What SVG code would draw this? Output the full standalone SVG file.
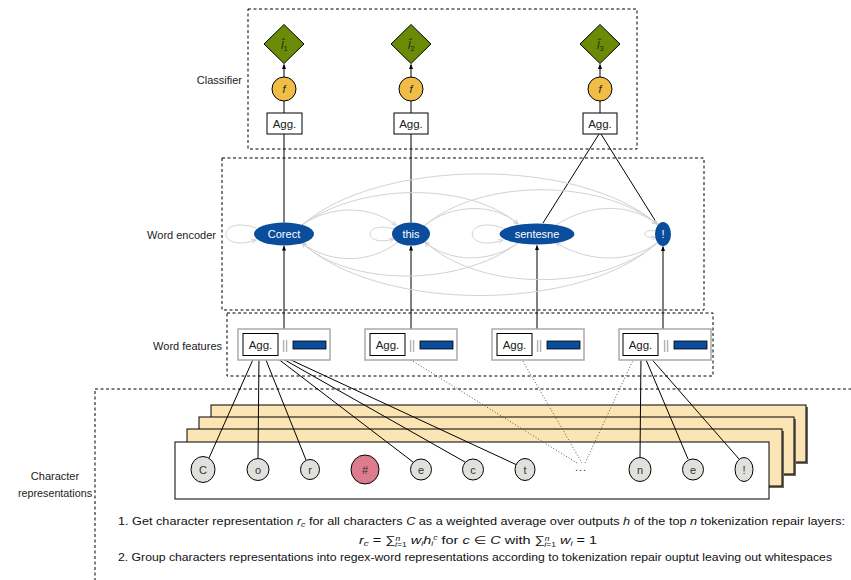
<svg xmlns="http://www.w3.org/2000/svg" width="851" height="580" viewBox="0 0 851 580">
  <defs>
    <marker id="arr" viewBox="0 0 6 6" refX="5.5" refY="3" markerWidth="5" markerHeight="5" orient="auto-start-reverse">
      <path d="M0,0.5 L6,3 L0,5.5 Z" fill="#000"/>
    </marker>
    <marker id="garr" viewBox="0 0 6 6" refX="5.5" refY="3" markerWidth="5" markerHeight="5" orient="auto">
      <path d="M0,0.5 L6,3 L0,5.5" fill="none" stroke="#cfcfcf" stroke-width="1"/>
    </marker>
    <style>
      text { font-family: "Liberation Sans", "DejaVu Sans", sans-serif; }
      .lbl { font-size: 11px; fill: #222; }
      .frame { fill: none; stroke: #000; stroke-width: 1; stroke-dasharray: 3 2.5; }
      .agg { fill: #fff; stroke: #000; stroke-width: 1; }
      .aggt { font-size: 11.5px; fill: #222; text-anchor: middle; }
      .dia { fill: #6b8a05; stroke: #000; stroke-width: 1; }
      .fn { fill: #f0bd46; stroke: #000; stroke-width: 1; }
      .word { fill: #0a4d9c; }
      .wordt { font-size: 11px; fill: #fff; text-anchor: middle; }
      .feat { fill: #fff; stroke: #aaa; stroke-width: 1.5; }
      .vec { fill: #0a4d9c; stroke: #000; stroke-width: 0.8; }
      .chr { fill: #e0e0dc; stroke: #000; stroke-width: 1; }
      .chrt { font-size: 11px; fill: #333; text-anchor: middle; }
      .layer { fill: #fbe5b5; stroke: #000; stroke-width: 1; }
      .shadow { fill: #6f6a60; }
      .arc { fill: none; stroke: #d2d2d2; stroke-width: 1; }
      .link { fill: none; stroke: #000; stroke-width: 1; }
      .dot { fill: none; stroke: #555; stroke-width: 1; stroke-dasharray: 1 2; }
      .note { font-size: 11px; fill: #111; }
    </style>
  </defs>

  <!-- group frames -->
  <g id="frames">
    <rect class="frame" x="248" y="9" width="389" height="140"/>
    <rect class="frame" x="222" y="158" width="482" height="152"/>
    <rect class="frame" x="227" y="313" width="486" height="63"/>
    <rect class="frame" x="95" y="389" width="800" height="220"/>
  </g>

  <!-- section labels -->
  <g id="labels">
    <text class="lbl" x="242" y="84" text-anchor="end">Classifier</text>
    <text class="lbl" x="216" y="239" text-anchor="end">Word encoder</text>
    <text class="lbl" x="222" y="350" text-anchor="end">Word features</text>
    <text class="lbl" x="55" y="480" text-anchor="middle">Character</text>
    <text class="lbl" x="55" y="497" text-anchor="middle" textLength="74" lengthAdjust="spacingAndGlyphs">representations</text>
  </g>

  <!-- stacked character-layer sheets -->
  <g id="layers">
    <rect class="shadow" x="213" y="407" width="595" height="57"/>
    <rect class="layer" x="211" y="405" width="595" height="57"/>
    <rect class="shadow" x="201" y="419" width="595" height="57"/>
    <rect class="layer" x="199" y="417" width="595" height="57"/>
    <rect class="shadow" x="189" y="431" width="595" height="57"/>
    <rect class="layer" x="187" y="429" width="595" height="57"/>
    <rect x="175" y="442" width="594" height="57" fill="#fff" stroke="#000" stroke-width="1"/>
  </g>

  <!-- connectors -->
  <g id="connectors">
    <!-- classifier chains -->
    <line class="link" x1="284" y1="113" x2="284" y2="101"/>
    <line class="link" x1="284" y1="77" x2="284" y2="64.5" marker-end="url(#arr)"/>
    <line class="link" x1="411" y1="113" x2="411" y2="101"/>
    <line class="link" x1="411" y1="77" x2="411" y2="64.5" marker-end="url(#arr)"/>
    <line class="link" x1="600" y1="113" x2="600" y2="101"/>
    <line class="link" x1="600" y1="77" x2="600" y2="64.5" marker-end="url(#arr)"/>
    <!-- word encoder to classifier -->
    <line class="link" x1="284" y1="134" x2="284" y2="222.5"/>
    <line class="link" x1="411" y1="134" x2="411" y2="222.5"/>
    <line class="link" x1="599" y1="134" x2="543" y2="223"/>
    <line class="link" x1="601" y1="134" x2="657" y2="223.5"/>
    <!-- word features to word encoder -->
    <line class="link" x1="284" y1="329" x2="284" y2="246" marker-end="url(#arr)"/>
    <line class="link" x1="411" y1="329" x2="411" y2="246" marker-end="url(#arr)"/>
    <line class="link" x1="537" y1="329" x2="537" y2="245.5" stroke="#777" stroke-width="1.4" marker-end="url(#arr)"/>
    <line class="link" x1="663" y1="329" x2="663" y2="246.5" stroke="#333" marker-end="url(#arr)"/>

    <!-- encoder attention arcs -->
    <path class="arc" d="M302,225 C330,205 370,205 396,225" marker-end="url(#garr)"/>
    <path class="arc" d="M302,225 C360,182 470,182 518,224" marker-end="url(#garr)"/>
    <path class="arc" d="M302,225 C380,157 580,157 657,224" marker-end="url(#garr)"/>
    <path class="arc" d="M424,226 C452,203 495,203 518,224" marker-end="url(#garr)"/>
    <path class="arc" d="M424,226 C480,178 600,178 657,224" marker-end="url(#garr)"/>
    <path class="arc" d="M556,225 C590,203 630,203 657,224" marker-end="url(#garr)"/>
    <path class="arc" d="M398,242 C370,264 330,264 302,243" marker-end="url(#garr)"/>
    <path class="arc" d="M518,243 C460,287 350,287 302,243" marker-end="url(#garr)"/>
    <path class="arc" d="M657,243 C580,313 380,313 302,243" marker-end="url(#garr)"/>
    <path class="arc" d="M518,243 C490,263 450,263 425,242" marker-end="url(#garr)"/>
    <path class="arc" d="M657,243 C600,292 480,292 425,242" marker-end="url(#garr)"/>
    <path class="arc" d="M657,243 C630,263 590,263 556,243" marker-end="url(#garr)"/>
    <!-- self loops -->
    <path class="arc" d="M256,228 C216,214 216,254 256,240" marker-end="url(#garr)"/>
    <path class="arc" d="M394,229 C362,220 362,248 394,239" marker-end="url(#garr)"/>
    <path class="arc" d="M503,228 C462,214 462,254 503,240" marker-end="url(#garr)"/>
    <path class="arc" d="M656,231 C641,228 641,240 656,237" marker-end="url(#garr)"/>

    <!-- characters to word features -->
    <line class="link" x1="255" y1="355" x2="209" y2="458"/>
    <line class="link" x1="259" y1="355" x2="258" y2="458"/>
    <line class="link" x1="264" y1="355" x2="306" y2="460"/>
    <line class="link" x1="273" y1="355" x2="413" y2="462"/>
    <line class="link" x1="276" y1="355" x2="465" y2="462"/>
    <line class="link" x1="278" y1="354" x2="517" y2="465"/>
    <line class="dot" x1="403" y1="355" x2="577" y2="463"/>
    <line class="dot" x1="520" y1="356" x2="582" y2="463"/>
    <line class="dot" x1="635" y1="356" x2="585" y2="463"/>
    <line class="link" x1="641" y1="355" x2="640" y2="457"/>
    <line class="link" x1="644" y1="355" x2="688" y2="459"/>
    <line class="link" x1="648" y1="355" x2="739" y2="459"/>
  </g>

  <!-- classifier nodes -->
  <g id="label-1">
    <polygon class="dia" points="284,24.5 304,44 284,63.5 264,44"/>
    <text x="281" y="49" font-size="11" fill="#222" font-style="italic">l̂<tspan font-size="7.5" font-style="normal" dy="2">1</tspan></text>
  </g>
  <g id="label-2">
    <polygon class="dia" points="411,24.5 431,44 411,63.5 391,44"/>
    <text x="408" y="49" font-size="11" fill="#222" font-style="italic">l̂<tspan font-size="7.5" font-style="normal" dy="2">2</tspan></text>
  </g>
  <g id="label-3">
    <polygon class="dia" points="600,24.5 620,44 600,63.5 580,44"/>
    <text x="597" y="49" font-size="11" fill="#222" font-style="italic">l̂<tspan font-size="7.5" font-style="normal" dy="2">3</tspan></text>
  </g>
  <g id="f-1"><circle class="fn" cx="284" cy="89" r="12"/><text x="284" y="93" font-size="11" font-style="italic" fill="#222" text-anchor="middle">f</text></g>
  <g id="f-2"><circle class="fn" cx="411" cy="89" r="12"/><text x="411" y="93" font-size="11" font-style="italic" fill="#222" text-anchor="middle">f</text></g>
  <g id="f-3"><circle class="fn" cx="600" cy="89" r="12"/><text x="600" y="93" font-size="11" font-style="italic" fill="#222" text-anchor="middle">f</text></g>
  <g id="cls-agg-1"><rect class="agg" x="267" y="113" width="35" height="21"/><text class="aggt" x="284.5" y="128">Agg.</text></g>
  <g id="cls-agg-2"><rect class="agg" x="394" y="113" width="34" height="21"/><text class="aggt" x="411" y="128">Agg.</text></g>
  <g id="cls-agg-3"><rect class="agg" x="583" y="113" width="34" height="21"/><text class="aggt" x="600" y="128">Agg.</text></g>

  <!-- word encoder nodes -->
  <g id="w-corect"><ellipse class="word" cx="284" cy="234" rx="30" ry="11.5"/><text class="wordt" x="284" y="238">Corect</text></g>
  <g id="w-this"><ellipse class="word" cx="411" cy="234" rx="19" ry="11.5"/><text class="wordt" x="411" y="238">this</text></g>
  <g id="w-sentesne"><ellipse class="word" cx="537" cy="234" rx="37.5" ry="10.5"/><text class="wordt" x="537" y="238">sentesne</text></g>
  <g id="w-excl"><ellipse class="word" cx="663" cy="234" rx="8" ry="12"/><text class="wordt" x="663" y="238">!</text></g>

  <!-- word feature nodes -->
  <g id="feat-1">
    <rect class="feat" x="238" y="329" width="92" height="31"/>
    <rect class="agg" x="243" y="333.5" width="35" height="22"/>
    <text class="aggt" x="260.5" y="348.5">Agg.</text>
    <text x="285" y="349" font-size="12" fill="#999" text-anchor="middle">||</text>
    <rect class="vec" x="293" y="341" width="33" height="8"/>
  </g>
  <g id="feat-2">
    <rect class="feat" x="365" y="329" width="92" height="31"/>
    <rect class="agg" x="370" y="333.5" width="35" height="22"/>
    <text class="aggt" x="387.5" y="348.5">Agg.</text>
    <text x="412" y="349" font-size="12" fill="#999" text-anchor="middle">||</text>
    <rect class="vec" x="420" y="341" width="33" height="8"/>
  </g>
  <g id="feat-3">
    <rect class="feat" x="492" y="329" width="92" height="31"/>
    <rect class="agg" x="497" y="333.5" width="35" height="22"/>
    <text class="aggt" x="514.5" y="348.5">Agg.</text>
    <text x="539" y="349" font-size="12" fill="#999" text-anchor="middle">||</text>
    <rect class="vec" x="547" y="341" width="33" height="8"/>
  </g>
  <g id="feat-4">
    <rect class="feat" x="619" y="329" width="92" height="31"/>
    <rect class="agg" x="623" y="333.5" width="35" height="22"/>
    <text class="aggt" x="640.5" y="348.5">Agg.</text>
    <text x="666" y="349" font-size="12" fill="#999" text-anchor="middle">||</text>
    <rect class="vec" x="674" y="341" width="33" height="8"/>
  </g>

  <!-- character nodes -->
  <g id="c-C"><ellipse class="chr" cx="203" cy="469.5" rx="12" ry="13"/><text class="chrt" x="203" y="474">C</text></g>
  <g id="c-o"><ellipse class="chr" cx="258" cy="469.5" rx="11" ry="11"/><text class="chrt" x="258" y="473.5">o</text></g>
  <g id="c-r"><ellipse class="chr" cx="310" cy="469.5" rx="9.5" ry="10"/><text class="chrt" x="310" y="473.5">r</text></g>
  <g id="c-hash"><ellipse cx="365" cy="469.5" rx="14" ry="14.5" fill="#dc7c8e" stroke="#000" stroke-width="1"/><text class="chrt" x="365" y="474">#</text></g>
  <g id="c-e1"><ellipse class="chr" cx="421" cy="469.5" rx="10.5" ry="10.5"/><text class="chrt" x="421" y="473.5">e</text></g>
  <g id="c-c"><ellipse class="chr" cx="473" cy="469.5" rx="10.5" ry="10.5"/><text class="chrt" x="473" y="473.5">c</text></g>
  <g id="c-t"><ellipse class="chr" cx="525" cy="469.5" rx="10" ry="11"/><text class="chrt" x="525" y="473.5">t</text></g>
  <g id="c-more"><text x="581" y="471" font-size="11" fill="#333" text-anchor="middle" letter-spacing="1">...</text></g>
  <g id="c-n"><ellipse class="chr" cx="640" cy="469.5" rx="11" ry="12"/><text class="chrt" x="640" y="473.5">n</text></g>
  <g id="c-e2"><ellipse class="chr" cx="693" cy="469.5" rx="10.5" ry="10.5"/><text class="chrt" x="693" y="473.5">e</text></g>
  <g id="c-excl"><ellipse class="chr" cx="744" cy="469.5" rx="9" ry="12"/><text class="chrt" x="744" y="473.5">!</text></g>

  <!-- explanation notes -->
  <g id="notes">
    <text class="note" x="118" y="525" textLength="727" lengthAdjust="spacingAndGlyphs">1. Get character representation <tspan font-style="italic">r</tspan><tspan font-size="7.5" font-style="italic" dy="2">c</tspan><tspan dy="-2"> for all characters </tspan><tspan font-style="italic">C</tspan> as a weighted average over outputs <tspan font-style="italic">h</tspan> of the top <tspan font-style="italic">n</tspan> tokenization repair layers:</text>
    <text class="note" x="359" y="544" textLength="238" lengthAdjust="spacingAndGlyphs"><tspan font-style="italic">r</tspan><tspan font-size="7.5" font-style="italic" dy="2">c</tspan><tspan dy="-2"> = ∑</tspan><tspan font-size="6.5" dy="-3" font-style="italic">n</tspan><tspan font-size="6.5" dy="6" dx="-4"><tspan font-style="italic">i</tspan>=1</tspan><tspan dy="-3" font-style="italic"> w</tspan><tspan font-size="7" font-style="italic" dy="2">i</tspan><tspan font-style="italic" dy="-2">h</tspan><tspan font-size="6.5" font-style="italic" dy="2">i</tspan><tspan font-size="6.5" font-style="italic" dy="-6">c</tspan><tspan dy="4"> for </tspan><tspan font-style="italic">c</tspan> ∈ <tspan font-style="italic">C</tspan> with  ∑<tspan font-size="6.5" dy="-3" font-style="italic">n</tspan><tspan font-size="6.5" dy="6" dx="-4"><tspan font-style="italic">i</tspan>=1</tspan><tspan dy="-3" font-style="italic"> w</tspan><tspan font-size="7" font-style="italic" dy="2">i</tspan><tspan dy="-2"> = 1</tspan></text>
    <text class="note" x="118" y="561" textLength="714" lengthAdjust="spacingAndGlyphs">2. Group characters representations into regex-word representations according to tokenization repair ouptut leaving out whitespaces</text>
  </g>
</svg>
